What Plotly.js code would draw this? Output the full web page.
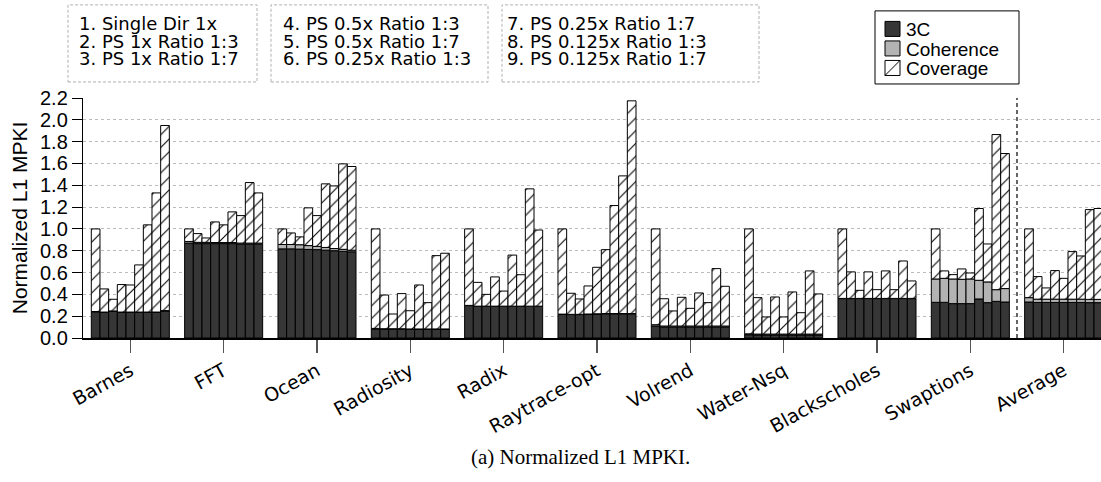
<!DOCTYPE html>
<html>
<head>
<meta charset="utf-8">
<script src="https://cdn.plot.ly/plotly-3.0.1.min.js"></script>
<style>html,body{margin:0;padding:0;background:#fff;}#chart{width:1101px;height:482px;}</style>
</head>
<body>
<div id="chart"></div>
<script>
// Benchmarks (x categories)
const benchmarks = ["Barnes","FFT","Ocean","Radiosity","Radix","Raytrace-opt","Volrend","Water-Nsq","Blackscholes","Swaptions","Average"];
// Configurations (9 bars per benchmark)
const configs = ["1. Single Dir 1x","2. PS 1x Ratio 1:3","3. PS 1x Ratio 1:7","4. PS 0.5x Ratio 1:3","5. PS 0.5x Ratio 1:7","6. PS 0.25x Ratio 1:3","7. PS 0.25x Ratio 1:7","8. PS 0.125x Ratio 1:3","9. PS 0.125x Ratio 1:7"];
// Miss categories (stack order)
const components = ["3C","Coherence","Coverage"];

// 3C misses (per benchmark, per config)
const c3 = [
  [0.240,0.235,0.245,0.235,0.235,0.235,0.235,0.235,0.248],
  [0.870,0.865,0.865,0.865,0.865,0.865,0.860,0.860,0.860],
  [0.817,0.817,0.815,0.812,0.810,0.805,0.800,0.795,0.790],
  [0.083,0.080,0.080,0.080,0.078,0.078,0.078,0.078,0.078],
  [0.297,0.290,0.290,0.290,0.290,0.290,0.290,0.290,0.290],
  [0.217,0.215,0.215,0.218,0.220,0.222,0.222,0.222,0.222],
  [0.110,0.100,0.100,0.100,0.100,0.100,0.100,0.100,0.100],
  [0.030,0.028,0.028,0.028,0.028,0.028,0.028,0.028,0.028],
  [0.361,0.361,0.361,0.361,0.361,0.361,0.361,0.361,0.361],
  [0.327,0.327,0.315,0.315,0.315,0.358,0.324,0.336,0.330],
  [0.330,0.326,0.326,0.326,0.326,0.326,0.326,0.324,0.324]
];
// Coherence misses
const coherence = [
  [0.003,0.003,0.003,0.003,0.003,0.003,0.003,0.003,0.003],
  [0.015,0.012,0.012,0.010,0.010,0.010,0.010,0.010,0.010],
  [0.040,0.040,0.040,0.035,0.030,0.025,0.020,0.018,0.015],
  [0.005,0.005,0.005,0.005,0.005,0.005,0.005,0.005,0.005],
  [0.002,0.002,0.002,0.002,0.002,0.002,0.002,0.002,0.002],
  [0.002,0.002,0.002,0.002,0.002,0.002,0.002,0.002,0.002],
  [0.012,0.010,0.010,0.010,0.010,0.010,0.010,0.010,0.010],
  [0.008,0.008,0.008,0.008,0.008,0.008,0.008,0.008,0.008],
  [0.002,0.002,0.002,0.002,0.002,0.002,0.002,0.002,0.002],
  [0.214,0.220,0.226,0.223,0.226,0.171,0.190,0.107,0.123],
  [0.040,0.030,0.030,0.030,0.030,0.030,0.030,0.030,0.030]
];
// Total normalized L1 MPKI (top of each bar)
const totals = [
  [1.000,0.450,0.355,0.490,0.486,0.670,1.037,1.330,1.948],
  [1.000,0.957,0.917,1.064,1.037,1.156,1.122,1.425,1.330],
  [1.000,0.963,0.927,1.193,1.122,1.413,1.394,1.596,1.572],
  [1.000,0.394,0.220,0.407,0.250,0.486,0.324,0.755,0.777],
  [1.000,0.510,0.400,0.560,0.430,0.760,0.580,1.367,0.990],
  [1.000,0.410,0.358,0.477,0.648,0.810,1.214,1.486,2.174],
  [1.000,0.360,0.248,0.373,0.272,0.413,0.324,0.636,0.474],
  [1.000,0.370,0.193,0.376,0.193,0.422,0.232,0.615,0.404],
  [1.000,0.606,0.437,0.606,0.443,0.615,0.443,0.706,0.523],
  [1.000,0.615,0.581,0.633,0.596,1.187,0.862,1.865,1.691],
  [1.000,0.563,0.459,0.618,0.547,0.792,0.752,1.177,1.187]
];
const yTicks = [0,0.2,0.4,0.6,0.8,1.0,1.2,1.4,1.6,1.8,2.0,2.2];

const FONT = "Liberation Sans, Arial, sans-serif";
const WIDE = "DejaVu Sans, Liberation Sans, sans-serif";
const nCfg = configs.length;
const groupSpan = 0.836;
const w = groupSpan / nCfg;
const traces = [];
for (let j = 0; j < nCfg; j++) {
  const a = benchmarks.map((b,i)=>c3[i][j]);
  const c = benchmarks.map((b,i)=>coherence[i][j]);
  const cov = benchmarks.map((b,i)=>totals[i][j]-c3[i][j]-coherence[i][j]);
  const baseCov = benchmarks.map((b,i)=>c3[i][j]+coherence[i][j]);
  const off = -groupSpan/2 + j*w;
  const common = {type:"bar", x:benchmarks, width:w, offset:off, hoverinfo:"skip", showlegend:false};
  traces.push(Object.assign({}, common, {name:components[0], y:a, base:0,
    marker:{color:"#363636", line:{color:"#000", width:1}}}));
  traces.push(Object.assign({}, common, {name:components[1], y:c, base:a,
    marker:{color:"#b3b3b3", line:{color:"#000", width:1}}}));
  traces.push(Object.assign({}, common, {name:components[2], y:cov, base:baseCov,
    marker:{color:"#ffffff", line:{color:"#000", width:1}, pattern:{shape:"/", fgcolor:"#000", bgcolor:"#fff", size:9, solidity:0.12}}}));
}

// plot area geometry (pixels) used to convert box positions to paper coords
const L = 83, R = 1101, T = 98, B = 337.7;
const px = v => (v - L)/(R - L);
const py = v => (B - v)/(B - T);

const shapes = [];
const annotations = [];
// configuration key boxes
const boxes = [[68,257,78],[271,488,282],[502,759,506]];
const rowY = [24, 41.5, 59];
boxes.forEach((bx,k)=>{
  shapes.push({type:"rect", xref:"paper", yref:"paper", x0:px(bx[0]), x1:px(bx[1]), y0:py(82), y1:py(5),
    line:{color:"#b0b0b0", width:1, dash:"3px,2px"}, fillcolor:"rgba(0,0,0,0)"});
  for (let r = 0; r < 3; r++) {
    annotations.push({xref:"paper", yref:"paper", x:px(bx[2]), y:py(rowY[r]), xanchor:"left", yanchor:"middle",
      text:configs[k*3+r], showarrow:false, borderpad:0, font:{family:WIDE, size:18, color:"#000"}});
  }
});
// component legend box
shapes.push({type:"rect", xref:"paper", yref:"paper", x0:px(875), x1:px(1019), y0:py(84), y1:py(11),
  line:{color:"#000", width:1}, fillcolor:"#fff"});
const legY = [29, 48.5, 68];
const legFill = ["#363636","#b3b3b3","#ffffff"];
components.forEach((name,k)=>{
  const yc = legY[k];
  shapes.push({type:"rect", xref:"paper", yref:"paper", x0:px(885), x1:px(900), y0:py(yc+7.5), y1:py(yc-7.5),
    line:{color:"#000", width:1}, fillcolor:legFill[k]});
  if (k === 2) {
    shapes.push({type:"line", xref:"paper", yref:"paper", x0:px(885), x1:px(900), y0:py(yc+7.5), y1:py(yc-7.5),
      line:{color:"#000", width:1}});
  }
  annotations.push({xref:"paper", yref:"paper", x:px(905), y:py(yc+1), xanchor:"left", yanchor:"middle",
    text:name, showarrow:false, borderpad:0, font:{family:FONT, size:19, color:"#000"}});
});
// separator between Swaptions and Average
shapes.push({type:"line", xref:"x", yref:"y", x0:9.5, x1:9.5, y0:0, y1:2.2, line:{color:"#000", width:1.2, dash:"4px,3px"}});
// caption
annotations.push({xref:"paper", yref:"paper", x:px(580), y:py(457), xanchor:"center", yanchor:"middle",
  text:"(a) Normalized L1 MPKI.", showarrow:false, font:{family:"Liberation Serif, DejaVu Serif, serif", size:21, color:"#000"}});

const layout = {
  width:1101, height:482,
  margin:{l:L, r:0, t:T, b:482-B, pad:0},
  paper_bgcolor:"#fff", plot_bgcolor:"#fff",
  barmode:"overlay",
  bargap:0,
  showlegend:false,
  font:{family:FONT, color:"#000"},
  xaxis:{type:"category", range:[-0.507, 10.40], showline:true, linecolor:"#000", linewidth:1.5,
    ticks:"outside", ticklen:13, tickcolor:"#555", tickwidth:1.2, tickangle:-29,
    tickfont:{family:WIDE, size:19, color:"#000"}, showgrid:false, zeroline:false, fixedrange:true},
  yaxis:{range:[0,2.2], tickvals:yTicks, ticktext:yTicks.map(v=>v.toFixed(1)), showline:true, linecolor:"#000", linewidth:1.2,
    ticks:"outside", ticklen:10, tickcolor:"#000", tickfont:{family:FONT, size:20, color:"#000"},
    showgrid:true, gridcolor:"#bbbbbb", griddash:"dot", gridwidth:1, zeroline:false,
    title:{text:"Normalized L1 MPKI", font:{family:FONT, size:21, color:"#000"}, standoff:6}},
  shapes:shapes,
  annotations:annotations
};

Plotly.newPlot("chart", traces, layout, {displayModeBar:false, staticPlot:true});
</script>
</body>
</html>
